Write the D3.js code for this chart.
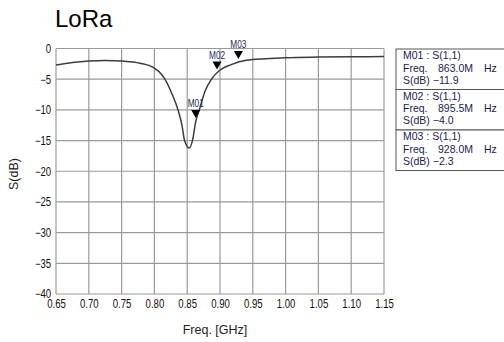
<!DOCTYPE html>
<html>
<head>
<meta charset="utf-8">
<script src="https://cdn.jsdelivr.net/npm/d3@7"></script>
<style>
  body { margin: 0; background: #fff; }
  svg { display: block; }
  .tick text { font-family: "Liberation Sans", Arial, sans-serif; font-size: 12px; fill: #111; }
  .mk { font-family: "Liberation Sans", Arial, sans-serif; font-size: 11px; fill: #2a2a55; }
</style>
</head>
<body>
<div id="chart"></div>
<script>
// S11 trace (GHz, dB)
var freqs = [0.65, 0.675, 0.70, 0.725, 0.75, 0.778, 0.80, 0.81, 0.816, 0.826, 0.836, 0.842, 0.846, 0.853, 0.858, 0.863, 0.869, 0.877, 0.887, 0.90, 0.915, 0.94, 0.97, 1.0, 1.05, 1.10, 1.15];
var sdb   = [-2.7, -2.3, -2.05, -1.95, -2.05, -2.4, -3.2, -4.1, -5.0, -7.2, -10.0, -12.5, -15.0, -16.2, -15.0, -11.9, -9.8, -7.0, -5.0, -3.5, -2.7, -1.9, -1.65, -1.5, -1.4, -1.35, -1.3];

var markerNames = ["M01", "M02", "M03"];
var markerFreqs = [0.863, 0.8955, 0.928];
var markerDb    = [-11.9, -4.0, -2.3];
var markerFreqText = ["863.0M", "895.5M", "928.0M"];

var xTicks = [0.65, 0.70, 0.75, 0.80, 0.85, 0.90, 0.95, 1.00, 1.05, 1.10, 1.15];
var yTicks = [0, -5, -10, -15, -20, -25, -30, -35, -40];

var svg = d3.select("#chart").append("svg")
  .attr("width", 504)
  .attr("height", 342);

var x = d3.scaleLinear().domain([0.65, 1.15]).range([56, 384]);
var y = d3.scaleLinear().domain([-40, 0]).range([294, 48.5]);

// grid
svg.append("g").selectAll("line")
  .data(xTicks).enter().append("line")
  .attr("x1", d => x(d)).attr("x2", d => x(d))
  .attr("y1", y(0)).attr("y2", y(-40))
  .attr("stroke", "#9a9a9a").attr("stroke-width", 1.2);
svg.append("g").selectAll("line")
  .data(yTicks).enter().append("line")
  .attr("x1", x(0.65)).attr("x2", x(1.15))
  .attr("y1", d => y(d)).attr("y2", d => y(d))
  .attr("stroke", "#9a9a9a").attr("stroke-width", 1.2);

// axes (labels only), text squeezed to look like the narrow instrument font
var xAxis = svg.append("g")
  .attr("transform", "translate(0," + y(-40) + ")")
  .call(d3.axisBottom(x).tickValues(xTicks).tickSize(0).tickPadding(5).tickFormat(d3.format(".2f")));
xAxis.select(".domain").remove();
xAxis.selectAll(".tick text").attr("transform", "scale(0.8,1)");

var yAxis = svg.append("g")
  .attr("transform", "translate(" + x(0.65) + ",0)")
  .call(d3.axisLeft(y).tickValues(yTicks).tickSize(0).tickPadding(6).tickFormat(d => d < 0 ? "\u2212" + (-d) : d));
yAxis.select(".domain").remove();
yAxis.selectAll(".tick text").attr("transform", "scale(0.8,1)");

// trace
var pts = freqs.map((f, i) => [f, sdb[i]]);
svg.append("path")
  .datum(pts)
  .attr("fill", "none")
  .attr("stroke", "#3c3c3c")
  .attr("stroke-width", 1.5)
  .attr("d", d3.line().x(d => x(d[0])).y(d => y(d[1])).curve(d3.curveMonotoneX));

// markers (triangle sits just above the trace point)
markerNames.forEach(function (name, i) {
  var mx = x(markerFreqs[i]), my = y(markerDb[i]) - 3.5;
  svg.append("path")
    .attr("d", "M" + (mx - 4.5) + "," + (my - 8) + "L" + (mx + 4.5) + "," + (my - 8) + "L" + mx + "," + my + "Z")
    .attr("fill", "#000");
  svg.append("text")
    .attr("class", "mk")
    .attr("transform", "translate(" + mx + "," + (my - 11) + ") scale(0.75,1)")
    .attr("text-anchor", "middle")
    .text(name);
});

// marker readout boxes
var boxX = 396, boxY = 49, boxH = 40.5;
markerNames.forEach(function (name, i) {
  var by = boxY + i * boxH;
  svg.append("rect")
    .attr("x", boxX).attr("y", by)
    .attr("width", 112).attr("height", boxH)
    .attr("fill", "#fff").attr("stroke", "#555").attr("stroke-width", 1);
  var g = svg.append("g")
    .attr("font-family", "'Liberation Sans', Arial, sans-serif")
    .attr("font-size", 10.5)
    .attr("fill", "#1c1c50");
  g.append("text").attr("x", boxX + 7).attr("y", by + 10).text(name + " : S(1,1)");
  g.append("text").attr("x", boxX + 7).attr("y", by + 22.5).text("Freq.");
  g.append("text").attr("x", boxX + 42).attr("y", by + 22.5).text(markerFreqText[i]);
  g.append("text").attr("x", boxX + 88).attr("y", by + 22.5).text("Hz");
  g.append("text").attr("x", boxX + 7).attr("y", by + 34.5).text("S(dB) \u2212" + (-markerDb[i]).toFixed(1));
});

// title and axis titles
svg.append("text")
  .attr("x", 55).attr("y", 27)
  .attr("font-family", "'Liberation Sans', Arial, sans-serif")
  .attr("font-size", 24)
  .attr("fill", "#000")
  .text("LoRa");

svg.append("text")
  .attr("transform", "translate(18,174) rotate(-90)")
  .attr("text-anchor", "middle")
  .attr("font-family", "'Liberation Sans', Arial, sans-serif")
  .attr("font-size", 12.5)
  .attr("fill", "#222")
  .text("S(dB)");

svg.append("text")
  .attr("x", 215).attr("y", 334)
  .attr("text-anchor", "middle")
  .attr("font-family", "'Liberation Sans', Arial, sans-serif")
  .attr("font-size", 12.5)
  .attr("fill", "#222")
  .text("Freq. [GHz]");
</script>
</body>
</html>
